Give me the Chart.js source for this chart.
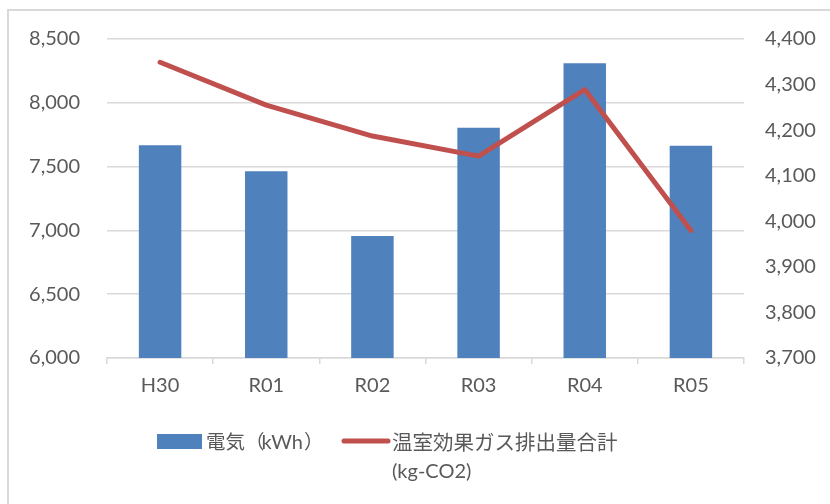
<!DOCTYPE html>
<html>
<head>
<meta charset="utf-8">
<script src="https://cdn.jsdelivr.net/npm/chart.js@4/dist/chart.umd.min.js"></script>
<style>
  html, body { margin: 0; padding: 0; background: #ffffff; }
  #wrap { width: 830px; height: 504px; position: relative; }
</style>
</head>
<body>
<div id="wrap"><canvas id="c" width="830" height="504"></canvas></div>
<script>
// 年度
const categories = ['H30', 'R01', 'R02', 'R03', 'R04', 'R05'];
// 電気使用量 (kWh)
const electricity = [7668, 7464, 6956, 7804, 8309, 7663];
// 温室効果ガス排出量合計 (kg-CO2)
const ghgTotal = [4349, 4255, 4187, 4143, 4289, 3980];
// 軸の目盛
const leftTicks = [6000, 6500, 7000, 7500, 8000, 8500];
const rightTicks = [3700, 3800, 3900, 4000, 4100, 4200, 4300, 4400];

const barLabel = '電気（kWh）';
const lineLabelLines = ['温室効果ガス排出量合計', '(kg-CO2)'];

const TEXT = '#595959';
const GRID = '#d9d9d9';
const BLUE = '#4f81bd';
const RED = '#c0504d';
const LATIN = 'Lato, "Open Sans", sans-serif';
const CJK = '"Noto Sans CJK JP", "Noto Sans", sans-serif';

const fmt = v => Number(v).toLocaleString('en-US');

// outer frame of the chart object
const framePlugin = {
  id: 'frame',
  beforeDraw(chart) {
    const ctx = chart.ctx;
    ctx.save();
    ctx.fillStyle = GRID;
    ctx.fillRect(7, 9, 2, chart.height);
    ctx.fillRect(7, 9, chart.width, 2);
    ctx.restore();
  }
};

// legend drawn below the plot (the second entry wraps onto two lines)
const legendPlugin = {
  id: 'customLegend',
  afterDraw(chart) {
    const ctx = chart.ctx;
    const barDs = chart.data.datasets[0];
    const lineDs = chart.data.datasets[1];
    ctx.save();
    ctx.textBaseline = 'middle';

    // bar entry
    ctx.fillStyle = barDs.backgroundColor;
    ctx.fillRect(157, 434, 45, 15);
    ctx.fillStyle = TEXT;
    const y1 = 442;
    ctx.font = '19.5px ' + CJK;
    const head = barDs.label.slice(0, 3);          // 電気（
    const unit = barDs.label.slice(3, -1);         // kWh
    const tail = barDs.label.slice(-1);            // ）
    ctx.fillText(head, 206, y1);
    let x = 206 + ctx.measureText(head).width - 3;
    ctx.font = '20px ' + LATIN;
    ctx.fillText(unit, x, y1 + 1);
    x += ctx.measureText(unit).width + 1;
    ctx.font = '19.5px ' + CJK;
    ctx.fillText(tail, x, y1);

    // line entry
    ctx.strokeStyle = lineDs.borderColor;
    ctx.lineWidth = 5;
    ctx.lineCap = 'round';
    ctx.beginPath();
    ctx.moveTo(344, 441);
    ctx.lineTo(388, 441);
    ctx.stroke();
    ctx.fillStyle = TEXT;
    ctx.font = '20.5px ' + CJK;
    ctx.fillText(lineDs.legendLines[0], 392, y1);
    ctx.font = '20px ' + LATIN;
    ctx.fillText(lineDs.legendLines[1], 392, 472);
    ctx.restore();
  }
};

new Chart(document.getElementById('c'), {
  type: 'bar',
  data: {
    labels: categories,
    datasets: [
      {
        type: 'bar',
        label: barLabel,
        data: electricity,
        backgroundColor: BLUE,
        borderWidth: 0,
        yAxisID: 'y',
        order: 1,
        categoryPercentage: 1.0,
        barPercentage: 0.4
      },
      {
        type: 'line',
        label: lineLabelLines.join(''),
        legendLines: lineLabelLines,
        data: ghgTotal,
        borderColor: RED,
        backgroundColor: RED,
        borderWidth: 5,
        borderCapStyle: 'round',
        borderJoinStyle: 'round',
        pointRadius: 0,
        pointHoverRadius: 0,
        tension: 0,
        fill: false,
        yAxisID: 'y1',
        order: 0
      }
    ]
  },
  options: {
    responsive: false,
    animation: false,
    events: [],
    layout: { padding: { top: 39, left: 0, right: 0, bottom: 0 } },
    plugins: {
      legend: { display: false },
      tooltip: { enabled: false },
      title: { display: false }
    },
    scales: {
      x: {
        offset: true,
        grid: {
          offset: true,
          drawOnChartArea: false,
          drawTicks: true,
          tickLength: 6,
          color: GRID,
          lineWidth: 1.5
        },
        border: { display: true, color: GRID, width: 1.5 },
        ticks: {
          color: TEXT,
          font: { family: LATIN, size: 20 },
          padding: 10,
          maxRotation: 0
        },
        afterFit(scale) { scale.height = 146; }
      },
      y: {
        position: 'left',
        min: leftTicks[0],
        max: leftTicks[leftTicks.length - 1],
        afterBuildTicks(scale) { scale.ticks = leftTicks.map(v => ({ value: v })); },
        grid: { color: GRID, lineWidth: 1.5, drawTicks: false },
        border: { display: false },
        ticks: {
          color: TEXT,
          font: { family: LATIN, size: 20 },
          padding: 27,
          callback: v => fmt(v)
        },
        afterFit(scale) { scale.width = 107; }
      },
      y1: {
        position: 'right',
        min: rightTicks[0],
        max: rightTicks[rightTicks.length - 1],
        afterBuildTicks(scale) { scale.ticks = rightTicks.map(v => ({ value: v })); },
        grid: { drawOnChartArea: false, drawTicks: false },
        border: { display: false },
        ticks: {
          color: TEXT,
          font: { family: LATIN, size: 20 },
          padding: 21,
          callback: v => fmt(v)
        },
        afterFit(scale) { scale.width = 86; }
      }
    }
  },
  plugins: [framePlugin, legendPlugin]
});
</script>
</body>
</html>
